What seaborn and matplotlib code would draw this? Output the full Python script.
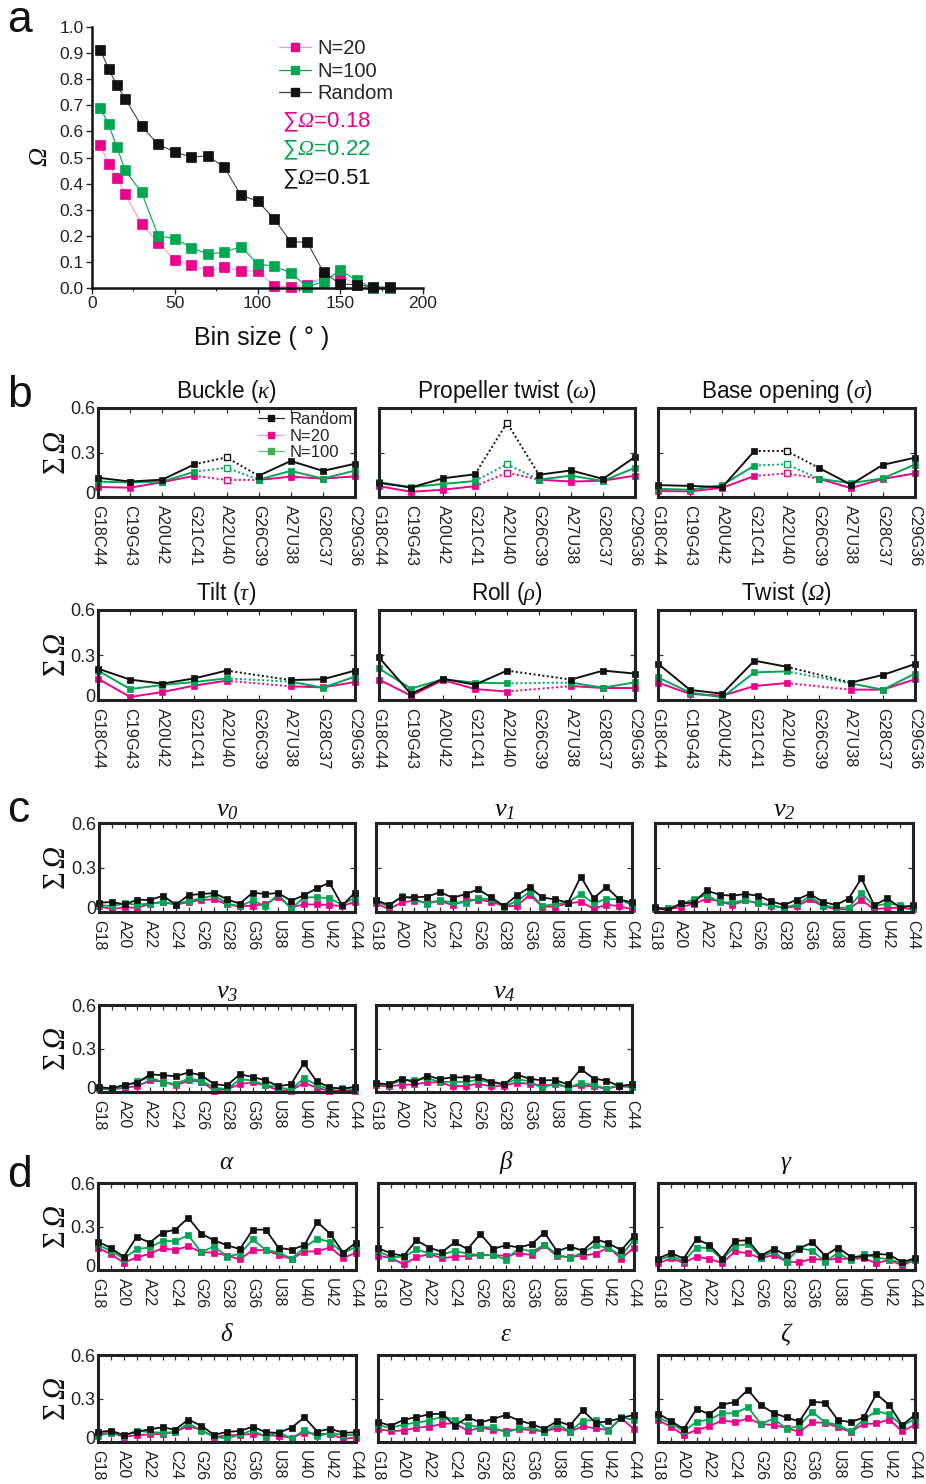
import numpy as np
import matplotlib
matplotlib.use("Agg")
import matplotlib.pyplot as plt
import matplotlib.transforms as mtransforms
from matplotlib.lines import Line2D
from matplotlib.ticker import MultipleLocator
import seaborn as sns

sns.set_style("ticks")
plt.rcParams['font.family'] = ['Liberation Sans', 'DejaVu Sans']
plt.rcParams['mathtext.fontset'] = 'custom'
plt.rcParams['mathtext.rm'] = 'Liberation Serif:italic'
plt.rcParams['mathtext.it'] = 'Liberation Serif:italic'
plt.rcParams['mathtext.sf'] = 'Liberation Serif'
plt.rcParams['mathtext.bf'] = 'Liberation Serif:bold'

MAG = '#EC008C'
GRN = '#00A651'
BLK = '#111111'
MAG_L = '#F59AC8'
GRN_L = '#5CC37C'
TXT = '#222222'
nan = np.nan

# ---------------- panel a data ----------------
a_bins = [5, 10, 15, 20, 30, 40, 50, 60, 70, 80, 90, 100, 110, 120, 130, 140, 150, 160, 170, 180]
a_random = [0.913, 0.840, 0.777, 0.726, 0.620, 0.550, 0.521, 0.502, 0.506, 0.462, 0.355, 0.334,
            0.265, 0.178, 0.175, 0.060, 0.015, 0.013, 0.004, 0.003]
a_n100 = [0.690, 0.627, 0.541, 0.451, 0.366, 0.200, 0.189, 0.155, 0.129, 0.138, 0.158, 0.093,
          0.083, 0.059, 0.004, 0.024, 0.069, 0.029, 0.000, 0.000]
a_n20 = [0.549, 0.474, 0.423, 0.360, 0.245, 0.173, 0.107, 0.089, 0.064, 0.080, 0.066, 0.064,
         0.009, 0.004, 0.010, 0.042, 0.045, 0.013, 0.000, 0.000]
a_sums = ['0.18', '0.22', '0.51']

# ---------------- panel b data ----------------
bp_labels = ['G18C44', 'C19G43', 'A20U42', 'G21C41', 'A22U40', 'G26C39', 'A27U38', 'G28C37', 'C29G36']
b_titles = ['Buckle ($\\kappa$)', 'Propeller twist ($\\omega$)', 'Base opening ($\\sigma$)',
            'Tilt ($\\tau$)', 'Roll ($\\rho$)', 'Twist ($\\Omega$)']

buckle_random = [0.130, 0.104, 0.117, 0.220, 0.267, 0.143, 0.243, 0.176, 0.224]
buckle_n100 = [0.104, 0.098, 0.104, 0.170, 0.198, 0.117, 0.176, 0.124, 0.178]
buckle_n20 = [0.067, 0.063, 0.100, 0.143, 0.115, 0.115, 0.137, 0.124, 0.139]

prop_random = [0.095, 0.064, 0.126, 0.153, 0.500, 0.150, 0.179, 0.122, 0.270]
prop_n100 = [0.100, 0.066, 0.088, 0.108, 0.221, 0.117, 0.144, 0.108, 0.197]
prop_n20 = [0.073, 0.035, 0.049, 0.073, 0.164, 0.117, 0.104, 0.110, 0.144]

open_random = [0.080, 0.075, 0.066, 0.310, 0.310, 0.197, 0.084, 0.217, 0.265]
open_n100 = [0.055, 0.049, 0.080, 0.212, 0.221, 0.124, 0.093, 0.126, 0.219]
open_n20 = [0.040, 0.038, 0.062, 0.142, 0.159, 0.124, 0.060, 0.122, 0.159]

tilt_random = [0.209, 0.136, 0.109, 0.144, 0.196, nan, 0.133, 0.138, 0.196]
tilt_n100 = [0.196, 0.073, 0.100, 0.120, 0.144, nan, 0.122, 0.082, 0.156]
tilt_n20 = [0.142, 0.020, 0.053, 0.096, 0.129, nan, 0.091, 0.084, 0.120]

roll_random = [0.284, 0.040, 0.142, 0.102, 0.196, nan, 0.136, 0.196, 0.176]
roll_n100 = [0.211, 0.076, 0.138, 0.116, 0.111, nan, 0.116, 0.082, 0.118]
roll_n20 = [0.136, 0.029, 0.133, 0.073, 0.056, nan, 0.093, 0.080, 0.080]

twist_random = [0.242, 0.067, 0.042, 0.262, 0.222, nan, 0.116, 0.167, 0.240]
twist_n100 = [0.151, 0.049, 0.018, 0.184, 0.191, nan, 0.111, 0.069, 0.176]
twist_n20 = [0.116, 0.040, 0.029, 0.093, 0.113, nan, 0.069, 0.069, 0.138]

# ---------------- panels c, d data (21 nucleotides) ----------------
nt_tick_labels = ['G18', 'A20', 'A22', 'C24', 'G26', 'G28', 'G36', 'U38', 'U40', 'U42', 'C44']
c_titles = ['$\\nu_{0}$', '$\\nu_{1}$', '$\\nu_{2}$', '$\\nu_{3}$', '$\\nu_{4}$']
d_titles = ['$\\alpha$', '$\\beta$', '$\\gamma$', '$\\delta$', '$\\varepsilon$', '$\\zeta$']

v0_random = [0.063, 0.067, 0.051, 0.083, 0.081, 0.110, 0.049, 0.114, 0.121, 0.128, 0.085, 0.056, 0.130, 0.121, 0.128, 0.076, 0.112, 0.159, 0.197, 0.045, 0.130]
v0_n100 = [0.049, 0.038, 0.058, 0.049, 0.058, 0.067, 0.051, 0.076, 0.092, 0.112, 0.058, 0.038, 0.078, 0.040, 0.119, 0.022, 0.098, 0.100, 0.092, 0.049, 0.096]
v0_n20 = [0.040, 0.018, 0.034, 0.027, 0.056, 0.067, 0.049, 0.067, 0.081, 0.085, 0.051, 0.038, 0.043, 0.051, 0.103, 0.031, 0.051, 0.051, 0.047, 0.040, 0.069]

v1_random = [0.080, 0.047, 0.100, 0.100, 0.103, 0.134, 0.096, 0.121, 0.152, 0.098, 0.040, 0.112, 0.166, 0.098, 0.085, 0.063, 0.239, 0.092, 0.168, 0.085, 0.065]
v1_n100 = [0.074, 0.038, 0.105, 0.089, 0.054, 0.078, 0.065, 0.063, 0.092, 0.085, 0.034, 0.074, 0.134, 0.040, 0.054, 0.063, 0.121, 0.058, 0.089, 0.085, 0.047]
v1_n20 = [0.060, 0.018, 0.065, 0.076, 0.063, 0.076, 0.045, 0.078, 0.083, 0.069, 0.040, 0.040, 0.116, 0.036, 0.036, 0.058, 0.069, 0.022, 0.049, 0.040, 0.018]

v2_random = [0.034, 0.011, 0.058, 0.063, 0.145, 0.116, 0.110, 0.121, 0.110, 0.072, 0.047, 0.083, 0.123, 0.069, 0.047, 0.089, 0.226, 0.045, 0.092, 0.029, 0.045]
v2_n100 = [0.025, 0.029, 0.051, 0.087, 0.116, 0.065, 0.065, 0.078, 0.060, 0.047, 0.029, 0.051, 0.105, 0.047, 0.029, 0.029, 0.128, 0.040, 0.056, 0.049, 0.029]
v2_n20 = [0.018, 0.018, 0.034, 0.054, 0.089, 0.072, 0.047, 0.078, 0.058, 0.043, 0.027, 0.038, 0.085, 0.040, 0.018, 0.018, 0.081, 0.018, 0.027, 0.029, 0.018]

v3_random = [0.034, 0.025, 0.050, 0.064, 0.122, 0.115, 0.109, 0.135, 0.115, 0.054, 0.045, 0.122, 0.104, 0.080, 0.041, 0.052, 0.199, 0.074, 0.032, 0.023, 0.036]
v3_n100 = [0.027, 0.019, 0.038, 0.076, 0.102, 0.065, 0.056, 0.093, 0.078, 0.030, 0.019, 0.087, 0.080, 0.047, 0.034, 0.014, 0.095, 0.049, 0.019, 0.030, 0.014]
v3_n20 = [0.023, 0.016, 0.030, 0.041, 0.080, 0.071, 0.045, 0.080, 0.071, 0.010, 0.019, 0.054, 0.067, 0.045, 0.012, 0.008, 0.063, 0.030, 0.008, 0.012, 0.008]

v4_random = [0.060, 0.054, 0.093, 0.067, 0.113, 0.089, 0.102, 0.100, 0.102, 0.071, 0.054, 0.120, 0.091, 0.080, 0.082, 0.052, 0.159, 0.093, 0.078, 0.041, 0.052]
v4_n100 = [0.058, 0.045, 0.082, 0.082, 0.095, 0.069, 0.071, 0.069, 0.085, 0.063, 0.054, 0.089, 0.074, 0.023, 0.065, 0.027, 0.063, 0.049, 0.023, 0.047, 0.036]
v4_n20 = [0.045, 0.038, 0.049, 0.052, 0.067, 0.067, 0.038, 0.043, 0.058, 0.038, 0.043, 0.065, 0.056, 0.045, 0.052, 0.034, 0.045, 0.038, 0.023, 0.041, 0.032]

alpha_random = [0.196, 0.151, 0.091, 0.229, 0.189, 0.258, 0.278, 0.360, 0.251, 0.204, 0.171, 0.144, 0.278, 0.278, 0.153, 0.140, 0.171, 0.331, 0.249, 0.120, 0.189]
alpha_n100 = [0.171, 0.133, 0.078, 0.144, 0.156, 0.200, 0.200, 0.240, 0.122, 0.164, 0.093, 0.111, 0.211, 0.138, 0.122, 0.078, 0.156, 0.216, 0.193, 0.116, 0.160]
alpha_n20 = [0.153, 0.109, 0.051, 0.087, 0.111, 0.151, 0.138, 0.164, 0.122, 0.120, 0.100, 0.073, 0.138, 0.136, 0.104, 0.076, 0.127, 0.129, 0.156, 0.082, 0.120]

beta_random = [0.151, 0.115, 0.097, 0.204, 0.155, 0.124, 0.191, 0.144, 0.249, 0.146, 0.171, 0.155, 0.178, 0.258, 0.128, 0.162, 0.133, 0.213, 0.184, 0.137, 0.236]
beta_n100 = [0.128, 0.092, 0.088, 0.142, 0.115, 0.106, 0.133, 0.112, 0.103, 0.103, 0.070, 0.151, 0.126, 0.173, 0.106, 0.083, 0.121, 0.171, 0.151, 0.101, 0.207]
beta_n20 = [0.099, 0.083, 0.040, 0.088, 0.110, 0.081, 0.092, 0.097, 0.101, 0.103, 0.097, 0.115, 0.103, 0.169, 0.094, 0.090, 0.099, 0.112, 0.155, 0.079, 0.155]

gamma_random = [0.079, 0.117, 0.079, 0.213, 0.173, 0.079, 0.202, 0.204, 0.099, 0.146, 0.103, 0.148, 0.191, 0.099, 0.155, 0.092, 0.092, 0.110, 0.106, 0.054, 0.081]
gamma_n100 = [0.067, 0.099, 0.061, 0.155, 0.151, 0.072, 0.166, 0.178, 0.088, 0.128, 0.058, 0.151, 0.133, 0.058, 0.117, 0.067, 0.112, 0.085, 0.074, 0.047, 0.067]
gamma_n20 = [0.045, 0.081, 0.049, 0.092, 0.076, 0.049, 0.128, 0.115, 0.081, 0.103, 0.058, 0.052, 0.079, 0.067, 0.079, 0.076, 0.081, 0.047, 0.070, 0.031, 0.070]

delta_random = [0.067, 0.079, 0.047, 0.070, 0.088, 0.101, 0.085, 0.155, 0.112, 0.049, 0.070, 0.076, 0.106, 0.067, 0.063, 0.099, 0.169, 0.072, 0.092, 0.063, 0.067]
delta_n100 = [0.043, 0.063, 0.043, 0.079, 0.067, 0.065, 0.067, 0.130, 0.079, 0.038, 0.022, 0.052, 0.081, 0.034, 0.070, 0.022, 0.083, 0.038, 0.065, 0.047, 0.047]
delta_n20 = [0.056, 0.063, 0.036, 0.047, 0.052, 0.056, 0.070, 0.110, 0.083, 0.034, 0.045, 0.049, 0.056, 0.047, 0.043, 0.029, 0.065, 0.056, 0.056, 0.022, 0.031]

eps_random = [0.139, 0.112, 0.153, 0.171, 0.191, 0.196, 0.112, 0.171, 0.135, 0.159, 0.187, 0.148, 0.124, 0.090, 0.144, 0.115, 0.218, 0.133, 0.142, 0.166, 0.187]
eps_n100 = [0.115, 0.097, 0.121, 0.133, 0.148, 0.175, 0.155, 0.115, 0.103, 0.101, 0.065, 0.094, 0.101, 0.067, 0.124, 0.072, 0.146, 0.153, 0.076, 0.169, 0.153]
eps_n20 = [0.088, 0.076, 0.079, 0.099, 0.106, 0.124, 0.130, 0.076, 0.099, 0.083, 0.079, 0.088, 0.083, 0.072, 0.097, 0.072, 0.108, 0.094, 0.083, 0.164, 0.088]

zeta_random = [0.196, 0.146, 0.088, 0.229, 0.191, 0.258, 0.276, 0.360, 0.254, 0.200, 0.169, 0.142, 0.276, 0.272, 0.151, 0.137, 0.169, 0.331, 0.254, 0.117, 0.187]
zeta_n100 = [0.169, 0.130, 0.074, 0.139, 0.155, 0.198, 0.198, 0.241, 0.124, 0.162, 0.090, 0.112, 0.209, 0.135, 0.119, 0.074, 0.155, 0.213, 0.191, 0.112, 0.157]
zeta_n20 = [0.151, 0.106, 0.047, 0.083, 0.108, 0.151, 0.135, 0.164, 0.124, 0.117, 0.097, 0.070, 0.135, 0.133, 0.101, 0.070, 0.124, 0.128, 0.155, 0.074, 0.119]

# ---------------- figure / layout helpers ----------------
W, H = 926, 1484
fig = plt.figure(figsize=(W / 100, H / 100), dpi=100)


def add_ax(l, t, r, b):
    return fig.add_axes([l / W, 1 - b / H, (r - l) / W, (b - t) / H])


def ftext(x, y, s, **kw):
    return fig.text(x / W, 1 - y / H, s, **kw)


def line(ax, x, y, color, **kw):
    base = dict(ax=ax, color=color, legend=False, errorbar=None, sort=False)
    base.update(kw)
    sns.lineplot(x=x, y=y, **base)


# ---------------- panel a ----------------
axa = add_ax(92, 27, 423, 288)
for vals, col, lc in [(a_n20, MAG, MAG_L), (a_n100, GRN, GRN), (a_random, BLK, '#444444')]:
    line(axa, a_bins, vals, lc, linewidth=0.8, clip_on=False)
    line(axa, a_bins, vals, col, linewidth=0, marker='s', markersize=6.5,
         markeredgecolor=col, markerfacecolor=col, markeredgewidth=0.5, clip_on=False)
axa.set_xlim(0, 200)
axa.set_ylim(0, 1.0)
axa.set_xticks([0, 50, 100, 150, 200])
axa.xaxis.set_minor_locator(MultipleLocator(25))
axa.set_yticks(np.arange(0, 1.01, 0.1))
axa.set_yticklabels([f'{v:.1f}' for v in np.arange(0, 1.01, 0.1)])
sns.despine(ax=axa)
for s in ['left', 'bottom']:
    axa.spines[s].set_linewidth(1.8)
    axa.spines[s].set_color(BLK)
axa.tick_params(axis='both', which='major', direction='out', length=4, width=1,
                labelsize=12.5, labelcolor=TXT, pad=2)
axa.tick_params(axis='x', which='minor', direction='out', length=2.5, width=0.8)
axa.set_xlabel('')
axa.set_ylabel('')
ftext(40, 157, '$\\Omega$', fontsize=19, rotation=90, ha='center', va='center', color=BLK)
ftext(262, 338, 'Bin size ( ° )', fontsize=18, ha='center', va='center', color=BLK)

handles_a = [Line2D([], [], color=MAG_L, lw=0.9, marker='s', ms=6, mfc=MAG, mec=MAG),
             Line2D([], [], color=GRN, lw=0.9, marker='s', ms=6, mfc=GRN, mec=GRN),
             Line2D([], [], color='#444444', lw=0.9, marker='s', ms=6, mfc=BLK, mec=BLK)]
axa.legend(handles_a, ['N=20', 'N=100', 'Random'], loc='upper left',
           bbox_to_anchor=((279 - 92) / 331, 1 - (39 - 27) / 261), frameon=False,
           fontsize=14.5, handlelength=1.6, handletextpad=0.3, labelspacing=0.18,
           borderpad=0, borderaxespad=0)
for i, (s, col) in enumerate(zip(a_sums, [MAG, GRN, BLK])):
    ftext(282, 122 + i * 28.5, '∑$\\Omega$=' + s, fontsize=16,
          color=col, ha='left', va='center')

# ---------------- common small-panel styling ----------------
SIG = '$\\mathsf{\\Sigma}\\,\\Omega$'
ZERO_SHIFT = mtransforms.ScaledTranslation(0, 3 / 72, fig.dpi_scale_trans)


def style_small(ax, n, labels, label_pos, show_y, title, xfs, title_pad=6, title_fs=16.3):
    ax.set_xlim(0, n - 1)
    ax.set_ylim(0, 0.6)
    ax.set_xticks(label_pos)
    ax.set_xticklabels(labels, rotation=-90, fontsize=xfs, color=TXT)
    ax.set_xticks(range(n), minor=True)
    ax.set_yticks([0, 0.3, 0.6])
    if show_y:
        ax.set_yticklabels(['0', '0.3', '0.6'], fontsize=13, color=TXT)
    else:
        ax.set_yticklabels([])
    ax.tick_params(axis='both', which='both', direction='in', top=True, right=True,
                   length=3.5, width=0.9, color='#333333', pad=2)
    ax.tick_params(axis='x', which='both', pad=5.5)
    if show_y:
        lab0 = ax.yaxis.get_major_ticks()[0].label1
        lab0.set_transform(lab0.get_transform() + ZERO_SHIFT)
    for s in ax.spines.values():
        s.set_visible(True)
        s.set_linewidth(2.2)
        s.set_color('#222222')
    ax.set_xlabel('')
    ax.set_ylabel('')
    ax.set_title(title, fontsize=title_fs, pad=title_pad, color=BLK)


def ylab(row):
    ftext(57, (row[0] + row[1]) / 2, SIG, fontsize=22, rotation=90,
          ha='center', va='center', color=BLK)


# ---------------- panel b ----------------
b_cols = [(98, 355), (379, 635), (658, 915)]
b_rows = [(408, 497), (610, 700)]
b_series = [
    (buckle_n20, buckle_n100, buckle_random, 'open'),
    (prop_n20, prop_n100, prop_random, 'open'),
    (open_n20, open_n100, open_random, 'open'),
    (tilt_n20, tilt_n100, tilt_random, 'gap'),
    (roll_n20, roll_n100, roll_random, 'gap'),
    (twist_n20, twist_n100, twist_random, 'gap'),
]
xb = np.arange(len(bp_labels))
for k, (s20, s100, srnd, mode) in enumerate(b_series):
    r, c = divmod(k, 3)
    ax = add_ax(b_cols[c][0], b_rows[r][0], b_cols[c][1], b_rows[r][1])
    for vals, col in [(s20, MAG), (s100, GRN), (srnd, BLK)]:
        v = np.asarray(vals, float)
        if mode == 'open':
            solid_sets = [[0, 1, 2, 3], [5, 6, 7, 8]]
            dot = [3, 4, 5]
            hollow = [4]
        else:
            solid_sets = [[0, 1, 2, 3, 4], [6, 7, 8]]
            dot = [4, 6]
            hollow = []
        line(ax, xb[dot], v[dot], col, linewidth=1.4, linestyle=(0, (1.0, 1.3)), clip_on=False)
        for idx in solid_sets:
            line(ax, xb[idx], v[idx], col, linewidth=1.4, marker='s', markersize=4.5,
                 markeredgecolor=col, markerfacecolor=col, markeredgewidth=0.5, clip_on=False)
        if hollow:
            line(ax, xb[hollow], v[hollow], col, linewidth=0, marker='s', markersize=4.5,
                 markeredgecolor=col, markerfacecolor='white', markeredgewidth=1.0, clip_on=False)
    style_small(ax, 9, bp_labels, list(range(9)), c == 0, b_titles[k], 11.8, title_pad=7)
    if k == 0:
        hb = [Line2D([], [], color='#333333', lw=0.9, marker='s', ms=4, mfc=BLK, mec=BLK),
              Line2D([], [], color=MAG_L, lw=0.9, marker='s', ms=4, mfc=MAG, mec=MAG),
              Line2D([], [], color=GRN_L, lw=0.9, marker='s', ms=4, mfc='#3BB54A', mec='#3BB54A')]
        ax.legend(hb, ['Random', 'N=20', 'N=100'], loc='upper right',
                  bbox_to_anchor=(0.99, 1 - (412 - 408) / 89),
                  frameon=False, fontsize=12, handlelength=1.6, handletextpad=0.3,
                  labelspacing=0.1, borderpad=0, borderaxespad=0)
    if c == 0:
        ylab(b_rows[r])

# ---------------- panels c and d ----------------
xn = np.arange(21)
tick_pos = list(range(0, 21, 2))


def draw_nt(ax, s20, s100, srnd):
    for vals, col in [(s20, MAG), (s100, GRN), (srnd, BLK)]:
        line(ax, xn, vals, col, linewidth=1.3, marker='s', markersize=4,
             markeredgecolor=col, markerfacecolor=col, markeredgewidth=0.5, clip_on=False)


c_cols = [(99, 355), (376, 632), (655, 913)]
c_rows = [(823, 912), (1005, 1092)]
c_series = [(v0_n20, v0_n100, v0_random), (v1_n20, v1_n100, v1_random),
            (v2_n20, v2_n100, v2_random), (v3_n20, v3_n100, v3_random),
            (v4_n20, v4_n100, v4_random)]
for k, (s20, s100, srnd) in enumerate(c_series):
    r, c = divmod(k, 3)
    ax = add_ax(c_cols[c][0], c_rows[r][0], c_cols[c][1], c_rows[r][1])
    draw_nt(ax, s20, s100, srnd)
    style_small(ax, 21, nt_tick_labels, tick_pos, c == 0, c_titles[k], 11.5,
                title_pad=5, title_fs=19)
    if c == 0:
        ylab(c_rows[r])

d_cols = [(98, 356), (378, 634), (658, 915)]
d_rows = [(1183, 1270), (1355, 1442)]
d_series = [(alpha_n20, alpha_n100, alpha_random), (beta_n20, beta_n100, beta_random),
            (gamma_n20, gamma_n100, gamma_random), (delta_n20, delta_n100, delta_random),
            (eps_n20, eps_n100, eps_random), (zeta_n20, zeta_n100, zeta_random)]
for k, (s20, s100, srnd) in enumerate(d_series):
    r, c = divmod(k, 3)
    ax = add_ax(d_cols[c][0], d_rows[r][0], d_cols[c][1], d_rows[r][1])
    draw_nt(ax, s20, s100, srnd)
    style_small(ax, 21, nt_tick_labels, tick_pos, c == 0, d_titles[k], 11.5,
                title_pad=10, title_fs=18)
    if c == 0:
        ylab(d_rows[r])

# ---------------- panel letters ----------------
for letter, yb in [('a', 32), ('b', 407), ('c', 822), ('d', 1187)]:
    ftext(7, yb, letter, fontsize=32, ha='left', va='baseline', color=BLK)

fig.savefig('out.png', dpi=100)
